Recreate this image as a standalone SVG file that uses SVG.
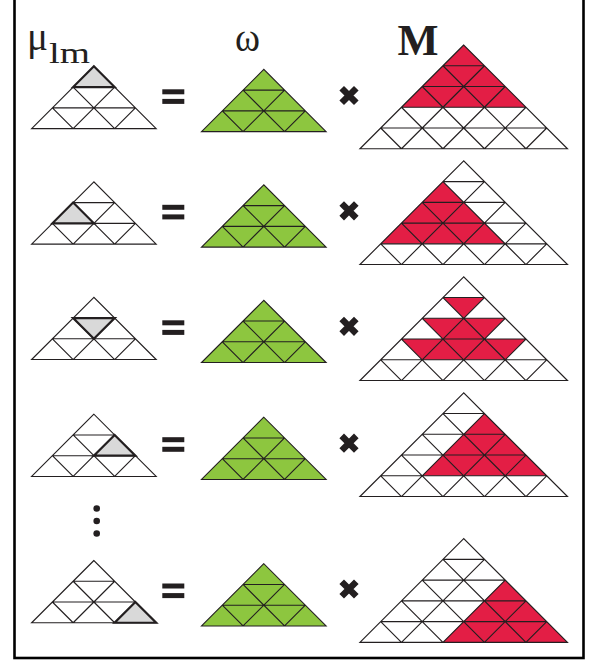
<svg xmlns="http://www.w3.org/2000/svg" xmlns:xlink="http://www.w3.org/1999/xlink" width="590" height="661" viewBox="0 0 590 661">
<style>
.grid{fill:none;stroke:#231f20;stroke-width:1.15;vector-effect:non-scaling-stroke;stroke-linejoin:miter}
.sel{fill:#d9d9d9;stroke:#231f20;stroke-width:2.2;vector-effect:non-scaling-stroke;stroke-linejoin:miter}
.green{fill:#8dc63f;stroke:none}
.red{fill:#e31e45;stroke:none}
.bar{fill:#231f20}
.times{fill:none;stroke:#231f20;stroke-width:6.5}
.dot{fill:#231f20}
.lbl{font-family:"Liberation Serif","Times New Roman",serif;fill:#231f20}
</style>
<defs>
<path id="grid3" class="grid" d="M0,0 L-3,3 H3 Z M-1,1 H1 M-2,2 H2 M-1,3 L1,1 M1,3 L2,2 M1,3 L-1,1 M-1,3 L-2,2"/>
<path id="grid5" class="grid" d="M0,0 L-5,5 H5 Z M-1,1 H1 M-2,2 H2 M-3,3 H3 M-4,4 H4 M-3,5 L1,1 M-1,5 L2,2 M1,5 L3,3 M3,5 L4,4 M3,5 L-1,1 M1,5 L-2,2 M-1,5 L-3,3 M-3,5 L-4,4"/>
<g id="eq"><rect class="bar" x="0" y="0" width="22" height="5"/><rect class="bar" x="0" y="9.6" width="22" height="5"/></g>
<path id="tx" class="times" d="M-7.3,-7.3 L7.3,7.3 M7.3,-7.3 L-7.3,7.3"/>
</defs>
<rect x="14.5" y="-5" width="569" height="663" fill="#ffffff" stroke="#000000" stroke-width="2.6"/>
<g id="labels">
<text class="lbl" x="27" y="50" font-size="42" textLength="21" lengthAdjust="spacingAndGlyphs">μ</text>
<text class="lbl" x="49" y="62.7" font-size="29" textLength="41" lengthAdjust="spacingAndGlyphs">lm</text>
<text class="lbl" x="235" y="50.7" font-size="40" textLength="25" lengthAdjust="spacingAndGlyphs">ω</text>
<text class="lbl" x="397.5" y="55" font-size="44" font-weight="bold" textLength="41" lengthAdjust="spacingAndGlyphs">M</text>
</g>
<!-- Row 1 -->
<g id="mu1" transform="translate(93.9,66.3) scale(20.75)"><use xlink:href="#grid3"/><polygon class="sel" points="0,0 -1,1 1,1"/></g>
<use id="eq1" xlink:href="#eq" x="162.3" y="89.3"/>
<g id="omega1" transform="translate(263.8,69.4) scale(20.75)"><polygon class="green" points="0,0 -3,3 3,3"/><use xlink:href="#grid3"/></g>
<use id="x1" xlink:href="#tx" x="349" y="95.5"/>
<g id="M1" transform="translate(463.7,45) scale(20.75)"><polygon class="red" points="0,0 -3,3 3,3"/><use xlink:href="#grid5"/></g>
<!-- Row 2 -->
<g id="mu2" transform="translate(93.9,181.8) scale(20.75)"><use xlink:href="#grid3"/><polygon class="sel" points="-1,1 -2,2 0,2"/></g>
<use id="eq2" xlink:href="#eq" x="162.3" y="204.8"/>
<g id="omega2" transform="translate(263.8,184.8) scale(20.75)"><polygon class="green" points="0,0 -3,3 3,3"/><use xlink:href="#grid3"/></g>
<use id="x2" xlink:href="#tx" x="349" y="210.8"/>
<g id="M2" transform="translate(463.7,160.8) scale(20.75)"><polygon class="red" points="-1,1 -4,4 2,4"/><use xlink:href="#grid5"/></g>
<!-- Row 3 -->
<g id="mu3" transform="translate(93.9,297.3) scale(20.75)"><use xlink:href="#grid3"/><polygon class="sel" points="-1,1 1,1 0,2"/></g>
<use id="eq3" xlink:href="#eq" x="162.3" y="320.3"/>
<g id="omega3" transform="translate(263.8,300.3) scale(20.75)"><polygon class="green" points="0,0 -3,3 3,3"/><use xlink:href="#grid3"/></g>
<use id="x3" xlink:href="#tx" x="349" y="326.3"/>
<g id="M3" transform="translate(463.7,276.8) scale(20.75)"><path class="red" d="M-1,1 H1 L0,2 Z M-2,2 H2 L1,3 H-1 Z M-3,3 H3 L2,4 H-2 Z"/><use xlink:href="#grid5"/></g>
<!-- Row 4 -->
<g id="mu4" transform="translate(93.9,414.2) scale(20.75)"><use xlink:href="#grid3"/><polygon class="sel" points="1,1 0,2 2,2"/></g>
<use id="eq4" xlink:href="#eq" x="162.3" y="437.2"/>
<g id="omega4" transform="translate(263.8,417.2) scale(20.75)"><polygon class="green" points="0,0 -3,3 3,3"/><use xlink:href="#grid3"/></g>
<use id="x4" xlink:href="#tx" x="349" y="443.2"/>
<g id="M4" transform="translate(463.7,392.8) scale(20.75)"><polygon class="red" points="1,1 -2,4 4,4"/><use xlink:href="#grid5"/></g>
<!-- dots -->
<g id="ellipsis"><circle class="dot" cx="96.7" cy="508.5" r="3.3"/><circle class="dot" cx="96.7" cy="521" r="3.3"/><circle class="dot" cx="96.7" cy="533.5" r="3.3"/></g>
<!-- Row 5 -->
<g id="mu5" transform="translate(93.9,560.5) scale(20.75)"><use xlink:href="#grid3"/><polygon class="sel" points="2,2 1,3 3,3"/></g>
<use id="eq5" xlink:href="#eq" x="162.3" y="583.5"/>
<g id="omega5" transform="translate(263.8,563.7) scale(20.75)"><polygon class="green" points="0,0 -3,3 3,3"/><use xlink:href="#grid3"/></g>
<use id="x5" xlink:href="#tx" x="349" y="589"/>
<g id="M5" transform="translate(463.7,538.6) scale(20.75)"><polygon class="red" points="2,2 -1,5 5,5"/><use xlink:href="#grid5"/></g>
</svg>
